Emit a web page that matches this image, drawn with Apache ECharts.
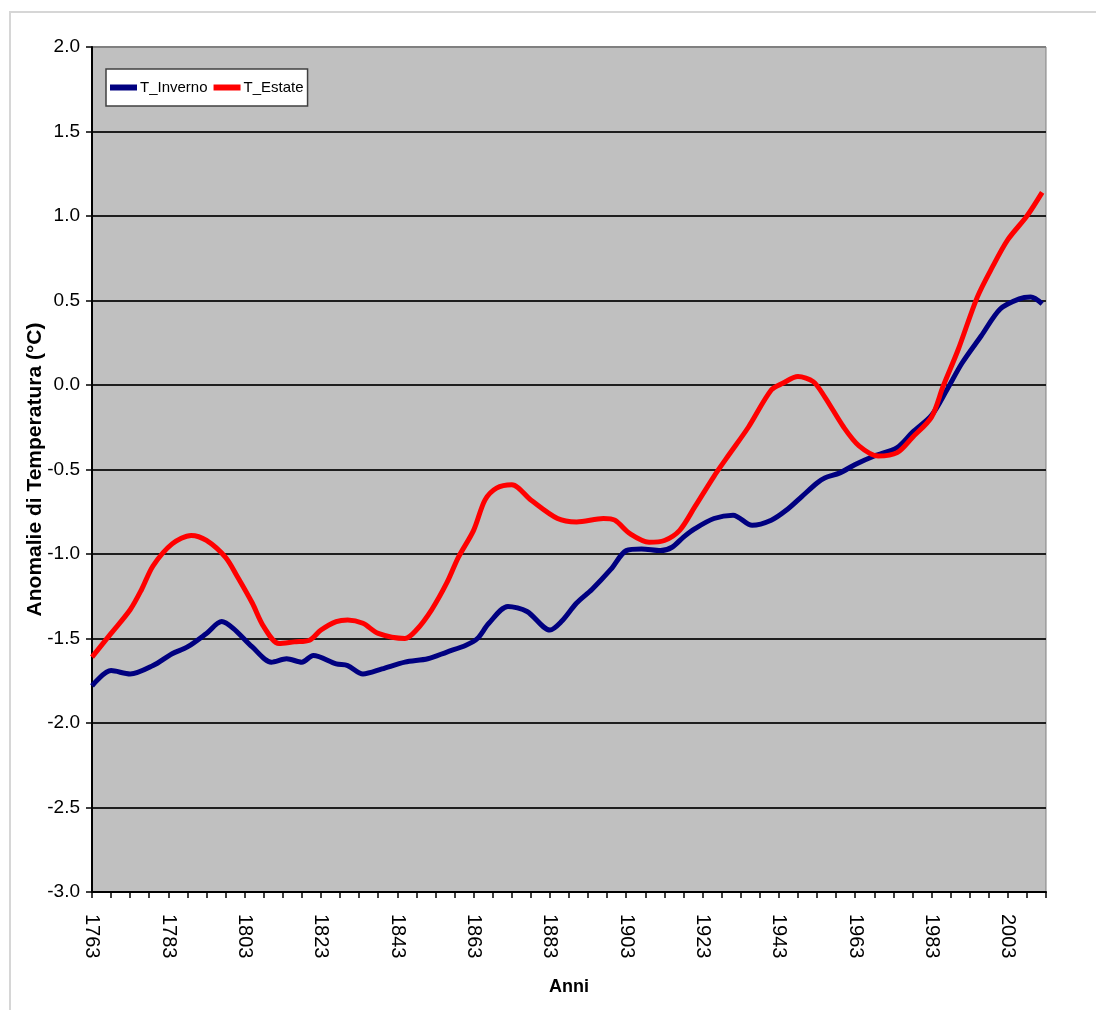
<!DOCTYPE html>
<html>
<head>
<meta charset="utf-8">
<script src="https://cdn.jsdelivr.net/npm/echarts@6/dist/echarts.min.js"></script>
<style>
  html, body { margin: 0; padding: 0; background: #fff; }
  #chart { width: 1096px; height: 1010px; }
</style>
</head>
<body>
<div id="chart"></div>
<script>
// T_Inverno (winter) anomalies
const winterYears = [1763, 1768, 1773, 1779, 1784, 1788, 1793, 1797, 1800, 1805, 1810, 1814, 1818, 1821,
  1827, 1830, 1834, 1839, 1845, 1851, 1856, 1861, 1864, 1867, 1872, 1877, 1883, 1886, 1890,
  1894, 1899, 1903, 1907, 1912, 1915, 1918, 1921, 1926, 1931, 1936, 1941, 1945, 1949, 1953,
  1955, 1959, 1963, 1968, 1974, 1978, 1983, 1987, 1991, 1996, 2001, 2006, 2009, 2012];
const winterValues = [-1.78, -1.69, -1.71, -1.66, -1.59, -1.55, -1.47, -1.40, -1.44, -1.55, -1.64, -1.62, -1.64, -1.60,
  -1.65, -1.66, -1.71, -1.68, -1.64, -1.62, -1.58, -1.54, -1.50, -1.41, -1.31, -1.34, -1.45, -1.40, -1.29,
  -1.21, -1.09, -0.98, -0.97, -0.98, -0.96, -0.90, -0.85, -0.79, -0.77, -0.83, -0.80, -0.74, -0.66, -0.58,
  -0.55, -0.52, -0.47, -0.42, -0.37, -0.28, -0.18, -0.03, 0.13, 0.29, 0.45, 0.51, 0.52, 0.48];

// T_Estate (summer) anomalies
const summerYears = [1763, 1768, 1773, 1776, 1779, 1784, 1789, 1793, 1798, 1801, 1805, 1808, 1812, 1816, 1820,
  1823, 1827, 1830, 1834, 1838, 1845, 1848, 1852, 1856, 1859, 1863, 1866, 1869, 1873, 1878, 1885, 1890,
  1897, 1900, 1904, 1909, 1913, 1917, 1921, 1926, 1930, 1935, 1941, 1944, 1948, 1952,
  1955, 1960, 1964, 1969, 1974, 1978, 1983, 1986, 1990, 1995, 1999, 2003, 2008, 2012];
const summerValues = [-1.61, -1.47, -1.33, -1.21, -1.07, -0.94, -0.89, -0.92, -1.02, -1.13, -1.29, -1.43, -1.53, -1.52, -1.51,
  -1.45, -1.40, -1.39, -1.41, -1.47, -1.50, -1.45, -1.33, -1.17, -1.02, -0.86, -0.68, -0.61, -0.59, -0.68, -0.79, -0.81,
  -0.79, -0.80, -0.88, -0.93, -0.92, -0.86, -0.72, -0.54, -0.41, -0.25, -0.03, 0.01, 0.05, 0.02,
  -0.07, -0.25, -0.36, -0.42, -0.40, -0.31, -0.19, -0.01, 0.21, 0.52, 0.70, 0.86, 1.00, 1.14];

const tickYears = [];
for (let y = 1763; y <= 2013; y += 5) tickYears.push(y);
const labelYears = [1763, 1783, 1803, 1823, 1843, 1863, 1883, 1903, 1923, 1943, 1963, 1983, 2003];

const zip = (xs, ys) => xs.map((x, i) => [x, ys[i]]);

const narrow = "'Liberation Sans Narrow', 'Liberation Sans', Arial, sans-serif";
const sans = "'Liberation Sans', Arial, sans-serif";

// grid lines: black, except the top one which is the grey plot border
const gridColors = [];
for (let i = 0; i < 10; i++) gridColors.push('#1e1e1e');
gridColors.push('#808080');

const chart = echarts.init(document.getElementById('chart'));
chart.setOption({
  animation: false,
  backgroundColor: '#fff',
  graphic: [{
    type: 'rect',
    shape: { x: 10, y: 12, width: 1100, height: 1010 },
    style: { fill: 'none', stroke: '#d6d6d6', lineWidth: 2 },
    silent: true
  }],
  grid: {
    left: 92, right: 50, top: 47, bottom: 118,
    show: true,
    backgroundColor: '#c0c0c0',
    borderColor: '#808080',
    borderWidth: 1
  },
  legend: {
    left: 106, top: 69,
    orient: 'horizontal',
    backgroundColor: '#fff',
    borderColor: '#404040',
    borderWidth: 1.5,
    padding: [11, 4, 11, 4],
    itemGap: 6,
    itemWidth: 27,
    itemHeight: 6,
    icon: 'rect',
    textStyle: { fontFamily: narrow, fontSize: 15, color: '#000', padding: [0, 0, 0, -2] },
    data: ['T_Inverno', 'T_Estate']
  },
  xAxis: {
    type: 'value',
    min: 1763, max: 2013,
    name: 'Anni',
    nameLocation: 'middle',
    nameGap: 86,
    nameMoveOverlap: false,
    nameTextStyle: { fontFamily: narrow, fontSize: 18, fontWeight: 'bold', color: '#000' },
    axisLine: { show: true, onZero: false, lineStyle: { color: '#000', width: 2 } },
    axisTick: { show: true, length: 6, customValues: tickYears, lineStyle: { color: '#000', width: 1.5 } },
    axisLabel: {
      customValues: labelYears,
      formatter: v => String(v),
      rotate: -90,
      margin: 22,
      fontFamily: sans, fontSize: 20, color: '#000'
    },
    splitLine: { show: false }
  },
  yAxis: {
    type: 'value',
    min: -3, max: 2, interval: 0.5,
    name: 'Anomalie di Temperatura (°C)',
    nameLocation: 'middle',
    nameGap: 46,
    nameMoveOverlap: false,
    nameTextStyle: { fontFamily: sans, fontSize: 21, fontWeight: 'bold', color: '#000' },
    axisLine: { show: true, lineStyle: { color: '#000', width: 2 } },
    axisTick: { show: true, length: 6, lineStyle: { color: '#000', width: 1.5 } },
    axisLabel: {
      margin: 12,
      formatter: v => v.toFixed(1),
      fontFamily: narrow, fontSize: 19, color: '#000'
    },
    splitLine: { show: true, lineStyle: { color: gridColors, width: 2 } }
  },
  series: [
    {
      name: 'T_Inverno',
      type: 'line',
      data: zip(winterYears, winterValues),
      smooth: 0.3,
      showSymbol: false,
      color: '#000080',
      lineStyle: { color: '#000080', width: 5 },
      z: 3
    },
    {
      name: 'T_Estate',
      type: 'line',
      data: zip(summerYears, summerValues),
      smooth: 0.3,
      showSymbol: false,
      color: '#ff0000',
      lineStyle: { color: '#ff0000', width: 5 },
      z: 4
    }
  ]
});
</script>
</body>
</html>
